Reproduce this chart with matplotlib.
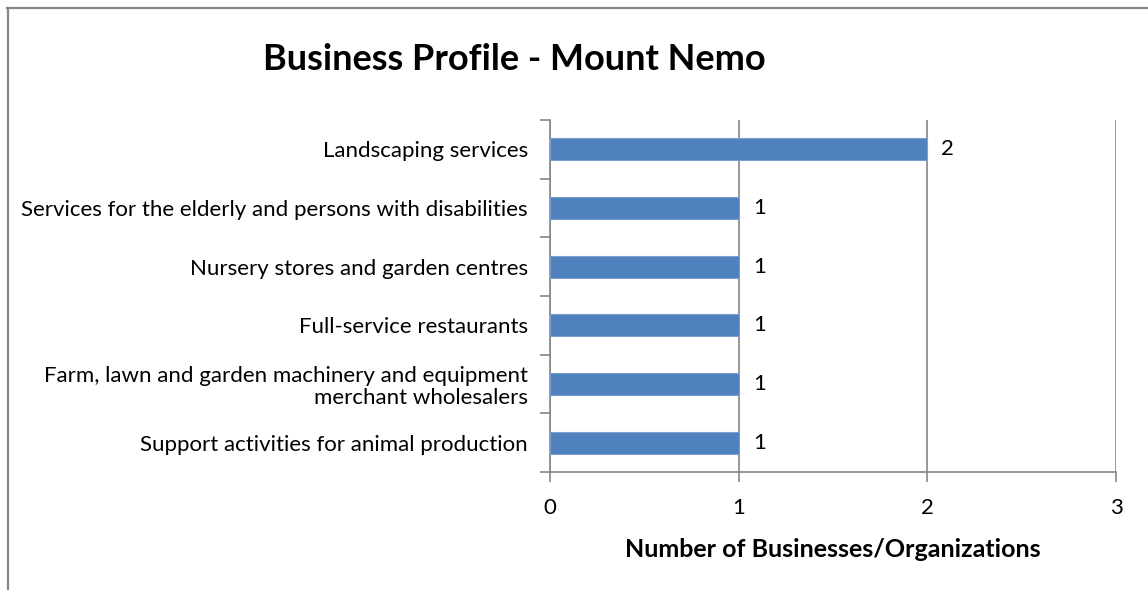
import matplotlib
matplotlib.use("Agg")
import matplotlib.pyplot as plt
from matplotlib.lines import Line2D
import numpy as np

plt.rcParams['font.family'] = ['Lato', 'DejaVu Sans']

categories = [
    "Landscaping services",
    "Services for the elderly and persons with disabilities",
    "Nursery stores and garden centres",
    "Full-service restaurants",
    "Farm, lawn and garden machinery and equipment\nmerchant wholesalers",
    "Support activities for animal production",
]
counts = [2, 1, 1, 1, 1, 1]
x_ticks = [0, 1, 2, 3]

grey = "#868686"
bar_color = "#4F81BD"

fig = plt.figure(figsize=(11.48, 5.90), dpi=100)
ax = fig.add_axes([550 / 1148, 1 - 472 / 590, 566 / 1148, 352 / 590])

y = np.arange(len(categories))
ax.barh(y, counts, height=0.38, color=bar_color, edgecolor="#7A9FCF",
        linewidth=0.8, zorder=3)

for yi, v in zip(y, counts):
    ax.text(v + 0.075, yi, str(v), va="center", ha="left", fontsize=16)

ax.set_ylim(len(categories) - 0.5, -0.5)
ax.set_xlim(0, 3)
ax.set_xticks(x_ticks)
ax.set_xticklabels([str(t) for t in x_ticks], fontsize=16)
ax.set_yticks(y)
ax.set_yticklabels(categories, fontsize=16, ha="right", linespacing=1.15)
ax.tick_params(axis="y", which="major", length=0, pad=16)
ax.set_yticks(np.arange(-0.5, len(categories)), minor=True)
ax.tick_params(axis="y", which="minor", length=7, color=grey, width=1.2)
ax.tick_params(axis="x", length=7, color=grey, width=1.2, pad=12)

ax.grid(axis="x", color=grey, linewidth=1.2, zorder=0)
for side in ["top", "right"]:
    ax.spines[side].set_visible(False)
for side in ["left", "bottom"]:
    ax.spines[side].set_color(grey)
    ax.spines[side].set_linewidth(1.2)

ax.set_xlabel("Number of Businesses/Organizations", fontsize=18,
              fontweight="bold", labelpad=14)

fig.text(514 / 1148, 1 - 60 / 590, "Business Profile - Mount Nemo",
         ha="center", va="center", fontsize=26, fontweight="bold")

# outer chart frame, top and left edges
fig.add_artist(Line2D([7 / 1148, 1], [1 - 7.5 / 590, 1 - 7.5 / 590],
                      color=grey, linewidth=1.6, transform=fig.transFigure))
fig.add_artist(Line2D([7.5 / 1148, 7.5 / 1148], [0, 1 - 7.5 / 590],
                      color=grey, linewidth=1.6, transform=fig.transFigure))

fig.savefig("out.png", dpi=100)
